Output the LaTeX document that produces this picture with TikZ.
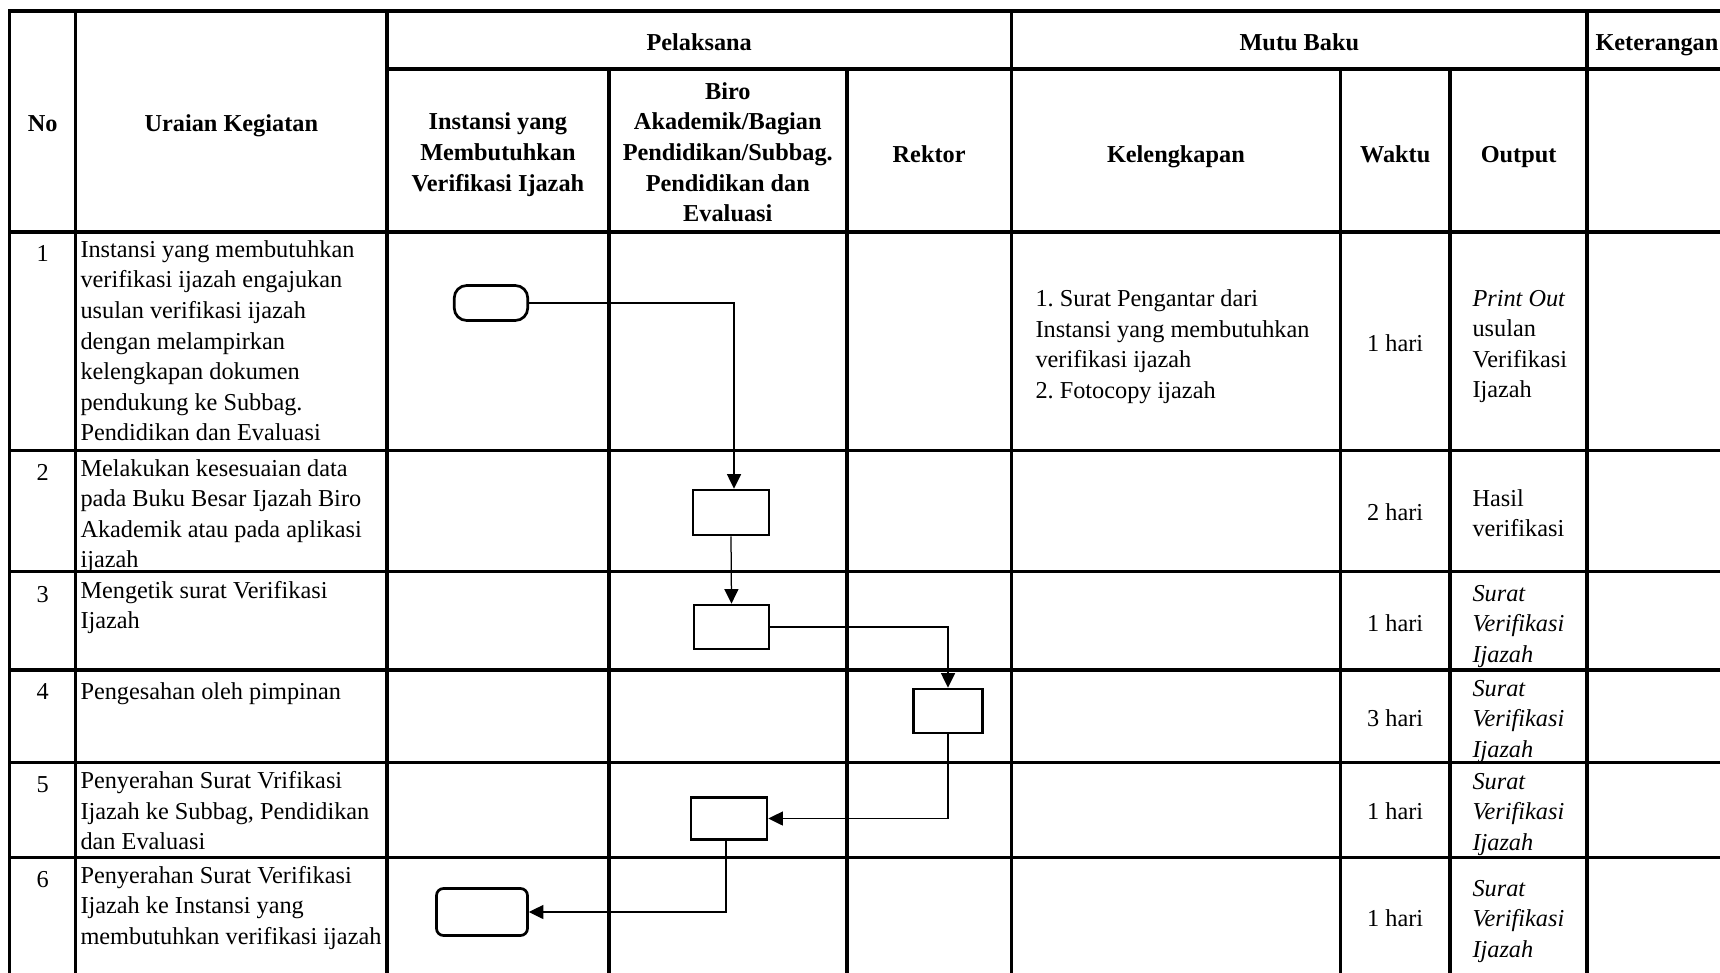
\documentclass[tikz,border=0pt]{standalone}
\usepackage{fontspec}
\setmainfont{Liberation Serif}
\usetikzlibrary{arrows.meta}
\begin{document}
\begin{tikzpicture}[x=0.4pt,y=-0.4pt,
  grid/.style={line width=1.4pt,line cap=rect},
  txt/.style={inner sep=0pt,font=\fontsize{9.72}{12.24}\selectfont\frenchspacing,
    execute at begin node=\strut,execute at end node=\strut},
  cell/.style={txt,align=left,anchor=north west},
  num/.style={txt,align=center,anchor=north},
  mid/.style={txt,align=left,anchor=west},
  ctr/.style={txt,align=center,anchor=center},
  hd/.style={txt,align=center,anchor=center,font=\fontsize{9.72}{12.24}\selectfont\bfseries},
  proc/.style={draw,line width=1.08pt,inner sep=0pt},
  term/.style={draw,line width=1.08pt,inner sep=0pt},
  flow/.style={line width=0.5pt,-{Triangle[length=5.8pt,width=5.6pt]}},
]
\useasboundingbox (0,0) rectangle (1720,973);
\fill[white] (0,0) rectangle (1720,973);

% ---- table grid ----
\draw[grid] (9.5,11) -- (1720,11);
\draw[grid] (387,69) -- (1720,69);
\foreach \y in {232,450.7,571.7,670,762.7,857.3} \draw[grid] (9.5,\y) -- (1720,\y);
\foreach \x in {9.5,75.7,387,1011.4,1587.2} \draw[grid] (\x,11) -- (\x,980);
\foreach \x in {608.8,846.8,1340.4,1450.1} \draw[grid] (\x,69) -- (\x,980);

% ---- header ----
\node[hd] (hno) at (42.6,125.8) {No};
\node[hd] (hur) at (231.3,125.8) {Uraian Kegiatan};
\node[hd] (hpel) at (699.2,44) {Pelaksana};
\node[hd] (hmut) at (1299.3,44) {Mutu Baku};
\node[hd,anchor=west] (hket) at (1595,44) {Keterangan};
\node[hd] (hins) at (497.9,156.6) {Instansi yang\\Membutuhkan\\Verifikasi Ijazah};
\node[hd] (hbiro) at (727.8,156.6) {Biro\\Akademik/Bagian\\Pendidikan/Subbag.\\Pendidikan dan\\Evaluasi};
\node[hd] (hrek) at (929.1,156.6) {Rektor};
\node[hd] (hkel) at (1175.9,156.6) {Kelengkapan};
\node[hd] (hwak) at (1395.2,156.6) {Waktu};
\node[hd] (hout) at (1518.6,156.6) {Output};

% ---- numbers ----
\node[num] (n1) at (42.6,240) {1};
\node[num] (n2) at (42.6,458.8) {2};
\node[num] (n3) at (42.6,580.5) {3};
\node[num] (n4) at (42.6,677.5) {4};
\node[num] (n5) at (42.6,770.8) {5};
\node[num] (n6) at (42.6,865.4) {6};

% ---- uraian kegiatan ----
\node[cell] (u1) at (80,240) {Instansi yang membutuhkan\\verifikasi ijazah engajukan\\usulan verifikasi ijazah\\dengan melampirkan\\kelengkapan dokumen\\pendukung ke Subbag.\\Pendidikan dan Evaluasi};
\node[cell] (u2) at (80,458.8) {Melakukan kesesuaian data\\pada Buku Besar Ijazah Biro\\Akademik atau pada aplikasi\\ijazah};
\node[cell] (u3) at (80,580.5) {Mengetik surat Verifikasi\\Ijazah};
\node[cell] (u4) at (80,677.5) {Pengesahan oleh pimpinan};
\node[cell] (u5) at (80,770.8) {Penyerahan Surat Vrifikasi\\Ijazah ke Subbag, Pendidikan\\dan Evaluasi};
\node[cell] (u6) at (80,865.4) {Penyerahan Surat Verifikasi\\Ijazah ke Instansi yang\\membutuhkan verifikasi ijazah};

% ---- kelengkapan ----
\node[mid] (k1) at (1035,348.5) {1. Surat Pengantar dari\\Instansi yang membutuhkan\\verifikasi ijazah\\2. Fotocopy ijazah};

% ---- waktu ----
\node[ctr] (w1) at (1395.2,345) {1 hari};
\node[ctr] (w2) at (1395.2,514.5) {2 hari};
\node[ctr] (w3) at (1395.2,625.5) {1 hari};
\node[ctr] (w4) at (1395.2,720) {3 hari};
\node[ctr] (w5) at (1395.2,813) {1 hari};
\node[ctr] (w6) at (1395.2,920) {1 hari};

% ---- output ----
\node[mid] (o1) at (1472,348.5) {\textit{Print Out}\\usulan\\Verifikasi\\Ijazah};
\node[mid] (o2) at (1472,517.5) {Hasil\\verifikasi};
\node[mid] (o3) at (1472,628.5) {\textit{Surat}\\\textit{Verifikasi}\\\textit{Ijazah}};
\node[mid] (o4) at (1472,723.5) {\textit{Surat}\\\textit{Verifikasi}\\\textit{Ijazah}};
\node[mid] (o5) at (1472,816.5) {\textit{Surat}\\\textit{Verifikasi}\\\textit{Ijazah}};
\node[mid] (o6) at (1472,923.5) {\textit{Surat}\\\textit{Verifikasi}\\\textit{Ijazah}};

% ---- flowchart ----
\node[term,rounded corners=5pt,minimum width=29.4pt,minimum height=14pt] (t1) at (491,303) {};
\node[proc,minimum width=30.4pt,minimum height=18pt] (b2) at (731,512.5) {};
\node[proc,minimum width=30pt,minimum height=17.6pt] (b3) at (731.5,627) {};
\node[proc,minimum width=27.6pt,minimum height=17.6pt] (b4) at (948,711) {};
\node[proc,minimum width=30.4pt,minimum height=16.8pt] (b5) at (729,818.5) {};
\node[term,rounded corners=2.8pt,minimum width=36.4pt,minimum height=18.8pt] (t6) at (482,912) {};

\draw[flow] (t1.east) -| ([xshift=1.2pt]b2.north);
\draw[flow] (b2.south) -- (b3.north);
\draw[flow] (b3.east) -| (b4.north);
\draw[flow] (b4.south) |- (b5.east);
\draw[flow] ([xshift=-1.2pt]b5.south) |- (t6.east);
\end{tikzpicture}
\end{document}
